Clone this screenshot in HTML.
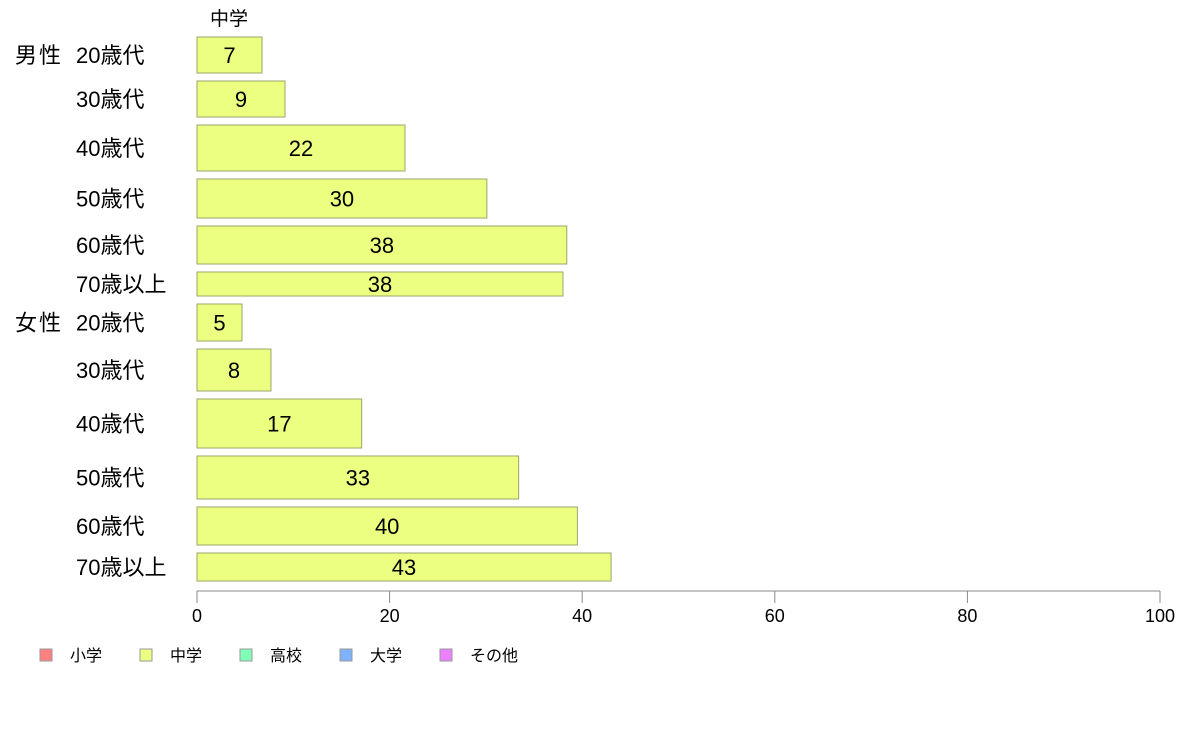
<!DOCTYPE html>
<html><head><meta charset="utf-8">
<style>
body{margin:0;background:#fff;}
svg text{font-family:"Liberation Sans","Noto Sans CJK JP",sans-serif;fill:#000;}
</style></head>
<body>
<svg id="chart" width="1188" height="736" xmlns="http://www.w3.org/2000/svg"></svg>
<script>
const groups = ["男性","","","","","","女性","","","","",""];
const categories = ["20歳代","30歳代","40歳代","50歳代","60歳代","70歳以上","20歳代","30歳代","40歳代","50歳代","60歳代","70歳以上"];
const values = [6.75,9.14,21.6,30.1,38.4,38.0,4.67,7.68,17.1,33.4,39.5,43.0];
const sampleSizes = [36,36,46,39,38,24,37,42,49,43,38,28];
const xTicks = [0,20,40,60,80,100];
const legendLabels = ["小学","中学","高校","大学","その他"];
const legendColors = ["#ff8080","#ecff80","#80ffb9","#80b3ff","#ec80ff"];

const svg = document.getElementById('chart');
const NS = "http://www.w3.org/2000/svg";
const x0 = 197, x1 = 1160;
const xScale = v => x0 + (v / 100) * (x1 - x0);
const top0 = 37, gap = 8;
function mk(tag, attrs, text){
  const e = document.createElementNS(NS, tag);
  for (const k in attrs) e.setAttribute(k, attrs[k]);
  if (text !== undefined) e.textContent = text;
  svg.appendChild(e);
  return e;
}
// header
let h = mk('text',{x:229,y:25,'font-size':19,'text-anchor':'middle'},"中学");



let y = top0;
for (let i = 0; i < values.length; i++){
  const hh = sampleSizes[i];
  const r = mk('rect',{x:x0,y:y,width:xScale(values[i])-x0,height:hh,fill:'#ecff80',stroke:'#9aa66a','stroke-width':1});
  
  
  const cy = y + hh/2 + 8;
  const t = mk('text',{x:(x0+xScale(values[i]))/2,y:cy,'font-size':22,'text-anchor':'middle'},String(Math.round(values[i])));
  
  
  const c = mk('text',{x:76,y:cy,'font-size':22},categories[i]);
  
  
  if (groups[i]){
    const g = mk('text',{x:15,y:cy,'font-size':22,'letter-spacing':'2'},groups[i]);
    
    
  }
  y += hh + gap;
}
// axis
const ax = mk('line',{x1:x0,y1:591,x2:x1,y2:591,stroke:'#888','stroke-width':1});


xTicks.forEach(v=>{
  const l = mk('line',{x1:xScale(v),y1:591,x2:xScale(v),y2:603,stroke:'#888','stroke-width':1});
  
  
  const t = mk('text',{x:xScale(v),y:622,'font-size':18,'text-anchor':'middle'},String(v));
  
  
});
// legend
legendLabels.forEach((lab,i)=>{
  const lx = 40 + i*100;
  const r = mk('rect',{x:lx,y:649,width:12,height:12,fill:legendColors[i],stroke:'#999','stroke-width':1});
  
  
  const t = mk('text',{x:lx+30,y:661,'font-size':16},lab);
  
  
});
</script>
</body></html>
